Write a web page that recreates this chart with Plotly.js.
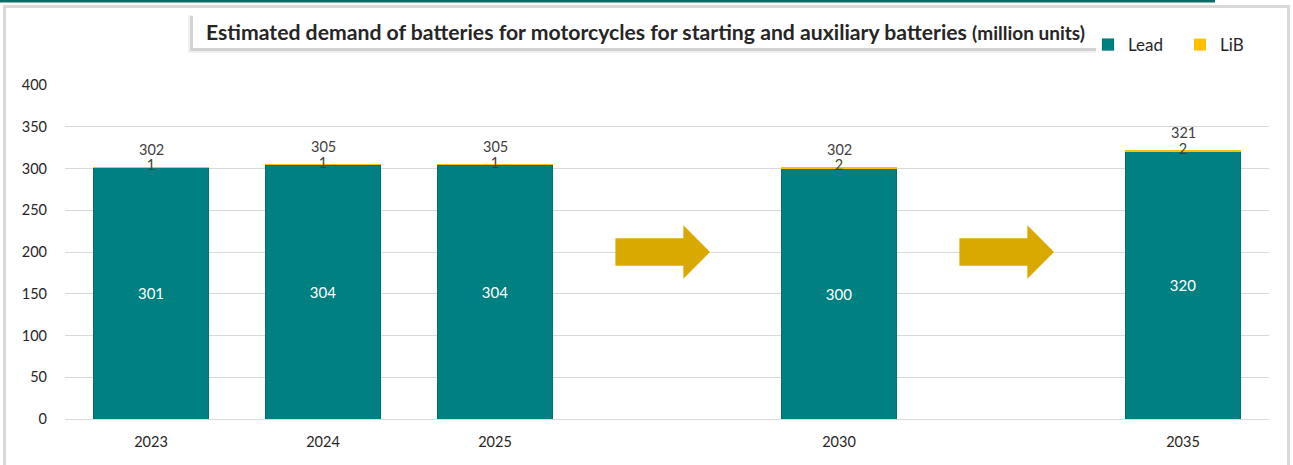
<!DOCTYPE html>
<html>
<head>
<meta charset="utf-8">
<script src="https://cdn.plot.ly/plotly-3.0.1.min.js"></script>
<style>
  html, body { margin: 0; padding: 0; background: #ffffff; }
  #chart { width: 1293px; height: 465px; }
</style>
</head>
<body>
<div id="chart"></div>
<script>
// Estimated battery demand for motorcycles (million units)
const years  = ['2023', '2024', '2025', '2030', '2035'];
const lead   = [301, 304, 304, 300, 320];
const lib    = [1, 1, 1, 2, 2];
const totals = [302, 305, 305, 302, 321];
const yTicks = [0, 50, 100, 150, 200, 250, 300, 350, 400];

// x-axis slots: years sit in slots 0,1,2,4,6; arrows fill the gaps
const slots = [0, 1, 2, 4, 6];
const arrowSlots = [3, 5];

const W = 1293, H = 465;
const M = { l: 65, r: 24, t: 85, b: 46, autoexpand: false };
const PW = W - M.l - M.r, PH = H - M.t - M.b;
const px = p => (p - M.l) / PW;          // pixel -> paper x
const py = p => (H - M.b - p) / PH;      // pixel -> paper y

const FONT = 'Lato, "Open Sans", sans-serif';
const TEAL = '#008080', GOLD = '#FFC000', ARROW = '#DAA900';

const traces = [
  {
    type: 'bar', name: 'Lead', x: slots, y: lead,
    width: 0.67, marker: { color: TEAL, line: { color: 'rgba(0,0,0,0.12)', width: 1 } },
    text: lead.map(String), textposition: 'inside', insidetextanchor: 'middle',
    textfont: { color: '#ffffff', size: 15, family: FONT },
    hovertemplate: '%{y}<extra>Lead</extra>'
  },
  {
    type: 'bar', name: 'LiB', x: slots, y: lib,
    width: 0.67, marker: { color: GOLD },
    textposition: 'none',
    hovertemplate: '%{y}<extra>LiB</extra>'
  },
  {
    // LiB value labels sit on top of each stack
    type: 'scatter', mode: 'text', showlegend: false, hoverinfo: 'skip',
    x: slots, y: lead.map((v, i) => v + lib[i]),
    text: lib.map(String), textposition: 'middle center',
    textfont: { color: '#404040', size: 14.5, family: FONT }
  }
];

const annotations = totals.map((t, i) => ({
  x: slots[i], y: lead[i] + lib[i], xref: 'x', yref: 'y',
  text: String(t), showarrow: false, yanchor: 'bottom', yshift: 7,
  font: { color: '#404040', size: 14.5, family: FONT }
}));

annotations.push({
  xref: 'paper', yref: 'paper', x: px(204), y: py(32),
  xanchor: 'left', yanchor: 'middle', showarrow: false,
  text: '<b>Estimated demand of batteries for motorcycles for starting and auxiliary batteries <span style="font-size:19px">(million units)</span></b>',
  font: { color: '#262626', size: 21.2, family: FONT }
});

// block arrows between the year groups (data units)
const arrowShapes = arrowSlots.map(s => {
  const x0 = s - 0.30, xb = s + 0.095, xt = s + 0.25;
  const yc = 200, sh = 16.5, hh = 32;
  return {
    type: 'path', xref: 'x', yref: 'y', layer: 'above',
    path: `M ${x0} ${yc - sh} L ${xb} ${yc - sh} L ${xb} ${yc - hh} L ${xt} ${yc} ` +
          `L ${xb} ${yc + hh} L ${xb} ${yc + sh} L ${x0} ${yc + sh} Z`,
    fillcolor: ARROW, line: { width: 0 }
  };
});

const frameShapes = [
  // accent rule along the top
  { type: 'rect', xref: 'paper', yref: 'paper', x0: px(0), x1: px(1215), y0: py(0), y1: py(2.5),
    fillcolor: '#0f6b65', line: { width: 0 }, layer: 'below' },
  // grey panel border
  { type: 'rect', xref: 'paper', yref: 'paper', x0: px(3), x1: px(6), y0: py(5), y1: py(H),
    fillcolor: '#d9d9d9', line: { width: 0 }, layer: 'below' },
  { type: 'rect', xref: 'paper', yref: 'paper', x0: px(3), x1: px(1290), y0: py(5), y1: py(8),
    fillcolor: '#d9d9d9', line: { width: 0 }, layer: 'below' },
  { type: 'rect', xref: 'paper', yref: 'paper', x0: px(1287), x1: px(1290), y0: py(5), y1: py(H),
    fillcolor: '#d9d9d9', line: { width: 0 }, layer: 'below' },
  // title box with a soft drop shadow
  { type: 'rect', xref: 'paper', yref: 'paper', x0: px(188), x1: px(1096), y0: py(15), y1: py(53),
    fillcolor: 'rgba(0,0,0,0.06)', line: { width: 0 }, layer: 'below' },
  { type: 'rect', xref: 'paper', yref: 'paper', x0: px(190), x1: px(1096), y0: py(16), y1: py(51),
    fillcolor: 'rgba(0,0,0,0.12)', line: { width: 0 }, layer: 'below' },
  { type: 'rect', xref: 'paper', yref: 'paper', x0: px(193), x1: px(1097), y0: py(13), y1: py(48),
    fillcolor: '#ffffff', line: { width: 0 }, layer: 'below' }
];

const layout = {
  width: W, height: H,
  margin: M,
  paper_bgcolor: '#ffffff', plot_bgcolor: '#ffffff',
  font: { family: FONT, color: '#262626', size: 14.5 },
  barmode: 'stack',
  showlegend: true,
  legend: {
    orientation: 'h', x: px(1088), y: py(45), xanchor: 'left', yanchor: 'middle',
    font: { size: 17, color: '#262626', family: FONT },
    bgcolor: 'rgba(0,0,0,0)', traceorder: 'normal', itemwidth: 30, entrywidth: 47
  },
  xaxis: {
    range: [-0.5, 6.5], tickmode: 'array', tickvals: slots, ticktext: years,
    showgrid: false, zeroline: false, showline: false, ticks: '',
    tickfont: { size: 14.5, color: '#262626', family: FONT }, ticklabelstandoff: 12,
    fixedrange: true
  },
  yaxis: {
    range: [0, 400], tickmode: 'array', tickvals: yTicks,
    showgrid: true, gridcolor: '#d9d9d9', gridwidth: 1,
    zeroline: true, zerolinecolor: '#d9d9d9', zerolinewidth: 1, showline: false, ticks: '',
    tickfont: { size: 14.5, color: '#262626', family: FONT }, ticklabelstandoff: 17,
    fixedrange: true
  },
  annotations: annotations,
  shapes: frameShapes.concat(arrowShapes)
};

Plotly.newPlot('chart', traces, layout, { displayModeBar: false, staticPlot: true });
</script>
</body>
</html>
